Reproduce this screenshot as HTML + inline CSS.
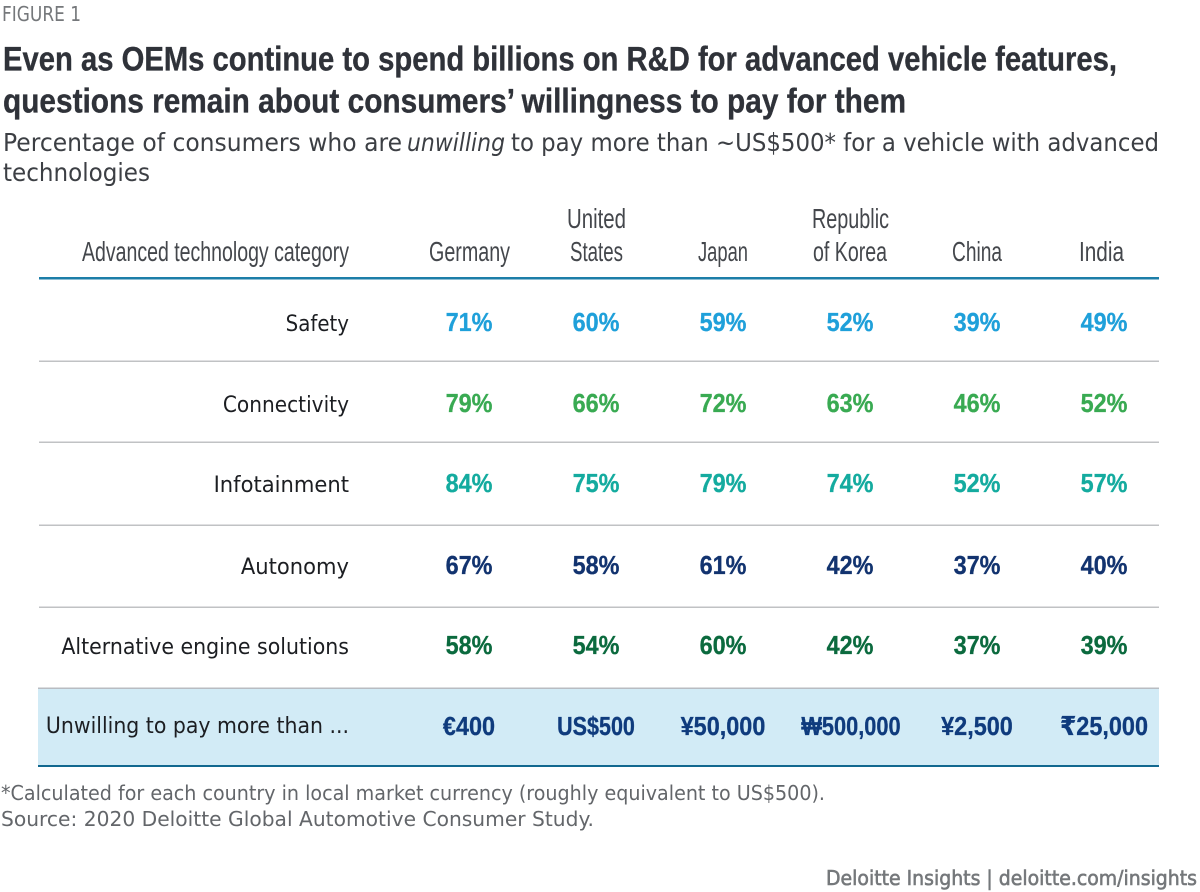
<!DOCTYPE html>
<html lang="en">
<head>
<meta charset="utf-8">
<title>Figure 1</title>
<style>
html,body{margin:0;padding:0;background:#fff;width:1200px;height:892px;overflow:hidden}
svg{display:block}
text{font-family:"DejaVu Sans","Liberation Sans",sans-serif;white-space:pre}
.hd{font-family:"Liberation Sans","DejaVu Sans",sans-serif;font-size:28px;fill:#44474c}
.foot{font-size:20.5px;fill:#63666a}
.cond{font-family:"Liberation Sans","DejaVu Sans",sans-serif}
</style>
</head>
<body>
<svg id="chart" width="1200" height="892" viewBox="0 0 1200 892" xmlns="http://www.w3.org/2000/svg">
  <rect x="0" y="0" width="1200" height="892" fill="#ffffff"/>
  <text x="2" y="21" font-size="20.5" fill="#75787b" textLength="79" lengthAdjust="spacingAndGlyphs">FIGURE 1</text>
  <g class="cond" font-weight="700" font-size="34" fill="#2f3239" stroke="#2f3239" stroke-width="0.35">
    <text class="cond" x="3" y="70.5" textLength="1114" lengthAdjust="spacingAndGlyphs">Even as OEMs continue to spend billions on R&amp;D for advanced vehicle features,</text>
    <text class="cond" x="3" y="112.5" textLength="903" lengthAdjust="spacingAndGlyphs">questions remain about consumers’ willingness to pay for them</text>
  </g>
  <g font-size="24.5" fill="#3c3f44">
    <text x="3" y="151" textLength="399" lengthAdjust="spacingAndGlyphs">Percentage of consumers who are</text>
    <text x="407" y="151" font-style="italic" textLength="98" lengthAdjust="spacingAndGlyphs">unwilling</text>
    <text x="511" y="151" textLength="648" lengthAdjust="spacingAndGlyphs">to pay more than ~US$500* for a vehicle with advanced</text>
    <text x="3" y="181" textLength="147" lengthAdjust="spacingAndGlyphs">technologies</text>
  </g>
  <g>
    <text class="hd" x="82" y="261" textLength="267" lengthAdjust="spacingAndGlyphs">Advanced technology category</text>
    <text class="hd" x="429" y="261" textLength="81" lengthAdjust="spacingAndGlyphs">Germany</text>
    <text class="hd" x="567" y="228" textLength="59" lengthAdjust="spacingAndGlyphs">United</text>
    <text class="hd" x="570" y="261" textLength="53" lengthAdjust="spacingAndGlyphs">States</text>
    <text class="hd" x="698" y="261" textLength="50" lengthAdjust="spacingAndGlyphs">Japan</text>
    <text class="hd" x="812" y="228" textLength="77" lengthAdjust="spacingAndGlyphs">Republic</text>
    <text class="hd" x="813" y="261" textLength="74" lengthAdjust="spacingAndGlyphs">of Korea</text>
    <text class="hd" x="952" y="261" textLength="50" lengthAdjust="spacingAndGlyphs">China</text>
    <text class="hd" x="1079" y="261" textLength="45" lengthAdjust="spacingAndGlyphs">India</text>
  </g>
  <rect x="38" y="689" width="1121" height="77" fill="#d2ebf6"/>
  <rect x="39" y="277" width="1120" height="2.5" fill="#1c7ea8"/>
  <rect x="39" y="360.5" width="1120" height="1.5" fill="#c0c2c4"/>
  <rect x="39" y="441.5" width="1120" height="1.5" fill="#c0c2c4"/>
  <rect x="39" y="524.5" width="1120" height="1.5" fill="#c0c2c4"/>
  <rect x="39" y="606.5" width="1120" height="1.5" fill="#c0c2c4"/>
  <rect x="38" y="687.5" width="1121" height="1.5" fill="#b8bcc2"/>
  <rect x="38" y="765" width="1121" height="2" fill="#12688f"/>
  <g id="cells"></g>
  <g>
    <text class="foot" x="1" y="800" textLength="824" lengthAdjust="spacingAndGlyphs">*Calculated for each country in local market currency (roughly equivalent to US$500).</text>
    <text class="foot" x="1" y="826" textLength="593" lengthAdjust="spacingAndGlyphs">Source: 2020 Deloitte Global Automotive Consumer Study.</text>
  </g>
  <text x="826" y="885" font-size="20" fill="#75787b" stroke="#75787b" stroke-width="0.6" textLength="371" lengthAdjust="spacingAndGlyphs">Deloitte Insights | deloitte.com/insights</text>
</svg>
<script>
const categories = ["Safety", "Connectivity", "Infotainment", "Autonomy", "Alternative engine solutions"];
const countries = ["germany", "united-states", "japan", "republic-of-korea", "china", "india"];
const safety = [71, 60, 59, 52, 39, 49];
const connectivity = [79, 66, 72, 63, 46, 52];
const infotainment = [84, 75, 79, 74, 52, 57];
const autonomy = [67, 58, 61, 42, 37, 40];
const alternativeEngine = [58, 54, 60, 42, 37, 39];
const thresholdLabel = "Unwilling to pay more than ...";
const thresholds = ["€400", "US$500", "¥50,000", "₩500,000", "¥2,500", "₹25,000"];

const series = [safety, connectivity, infotainment, autonomy, alternativeEngine];
const rowColors = ["#1fa0da", "#39aa52", "#14ab9f", "#12336f", "#0b6a3e"];
const rowBaselines = [331, 412, 492, 574, 654];
const labelSqueeze = [0.9, 0.915, 0.958, 0.957, 0.933];
const thresholdSqueeze = [0.92, 0.845, 0.92, 0.855, 0.92, 0.92];
const svgNS = "http://www.w3.org/2000/svg";
const cells = document.getElementById("cells");

function xCol(i) { return 469 + 127 * i; }

function addText(str, x, y, opts) {
  const t = document.createElementNS(svgNS, "text");
  t.setAttribute("x", x);
  t.setAttribute("y", y);
  t.setAttribute("font-size", opts.size);
  t.setAttribute("fill", opts.fill);
  t.setAttribute("text-anchor", opts.anchor);
  if (opts.bold) {
    t.setAttribute("class", "cond");
    t.setAttribute("font-weight", "700");
    t.setAttribute("stroke", opts.fill);
    t.setAttribute("stroke-width", "0.3");
  }
  t.textContent = str;
  cells.appendChild(t);
  const natural = t.getComputedTextLength();
  t.setAttribute("textLength", natural * opts.squeeze);
  t.setAttribute("lengthAdjust", "spacingAndGlyphs");
  return t;
}

categories.forEach(function (cat, r) {
  const label = addText(cat, 349, rowBaselines[r], {size: 22, fill: "#1c1e22", anchor: "end", squeeze: labelSqueeze[r]});
  
  
  series[r].forEach(function (v, c) {
    const cell = addText(v + "%", xCol(c), rowBaselines[r], {size: 26, fill: rowColors[r], anchor: "middle", bold: true, squeeze: 0.9});
    
    
    cell.setAttribute('data-country', countries[c]);
  });
});

const thLabel = addText(thresholdLabel, 349, 733, {size: 22, fill: "#1c1e22", anchor: "end", squeeze: 0.93});


thresholds.forEach(function (v, c) {
  const cell = addText(v, xCol(c) + (c === 3 ? 1 : 0), 735, {size: 26, fill: "#0f3b7d", anchor: "middle", bold: true, squeeze: thresholdSqueeze[c] * 0.98});
  
  
  cell.setAttribute('data-country', countries[c]);
});
</script>
</body>
</html>
